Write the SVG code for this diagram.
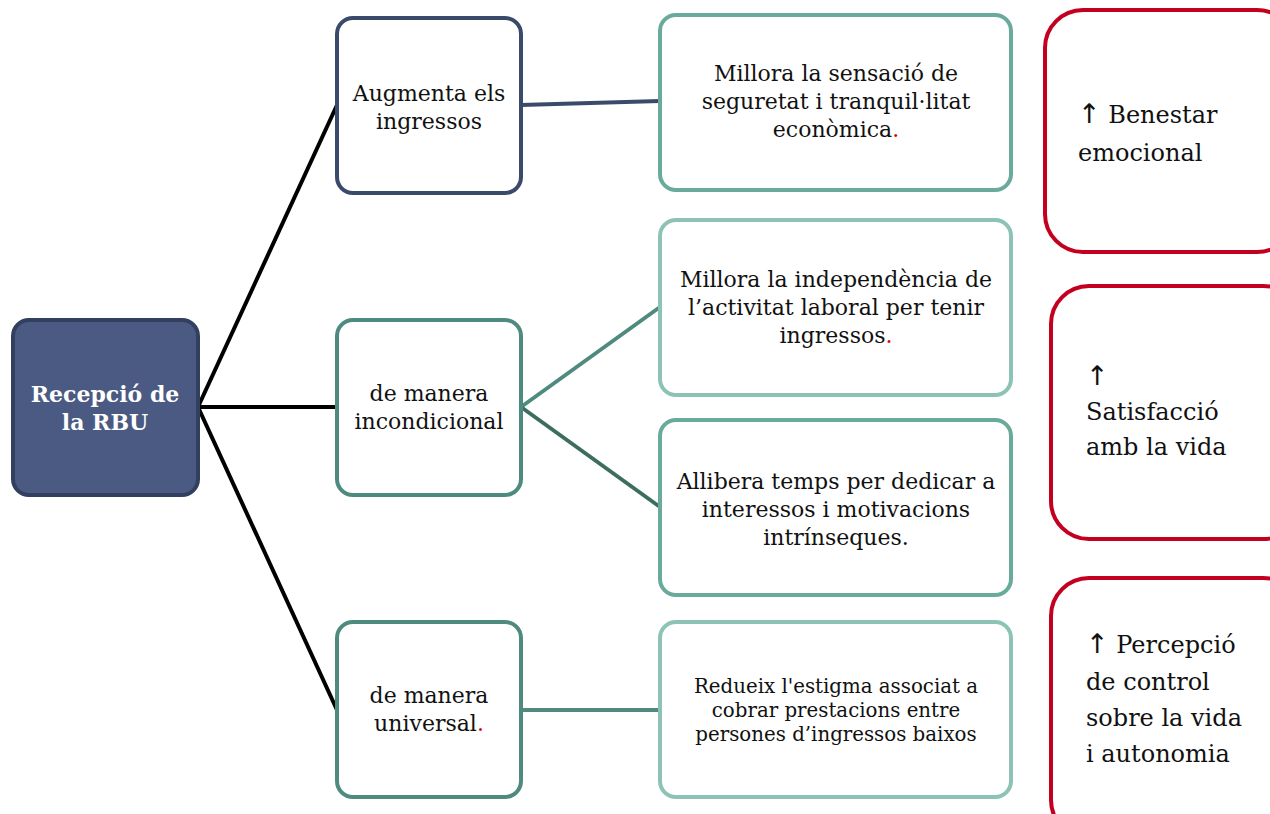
<svg xmlns="http://www.w3.org/2000/svg" width="1270" height="814" viewBox="0 0 1270 814">
<style>
.t{font-family:"DejaVu Serif","Liberation Serif",serif;font-size:22px;fill:#111;text-anchor:middle}
.s{font-size:19.8px}
.r{font-family:"DejaVu Serif","Liberation Serif",serif;font-size:24px;fill:#111}
.ar{font-family:"DejaVu Sans",sans-serif;font-size:27px}
.root{font-family:"DejaVu Serif","Liberation Serif",serif;font-size:22px;font-weight:bold;fill:#fff;text-anchor:middle}
.red{fill:#e00000}
.box{fill:#fff;stroke-width:4}
.redbox{fill:#fff;stroke:#c3001f;stroke-width:4}
</style>
<rect width="1270" height="814" fill="#fff"/>
<g id="connectors" fill="none" stroke-width="4">
<line x1="198" y1="407" x2="337" y2="105" stroke="#000"/>
<line x1="198" y1="407" x2="337" y2="407" stroke="#000"/>
<line x1="198" y1="407" x2="337" y2="710" stroke="#000"/>
<line x1="521" y1="105" x2="660" y2="101" stroke="#3b4a6b"/>
<line x1="521" y1="407" x2="660" y2="307" stroke="#4f8a7f"/>
<line x1="521" y1="407" x2="660" y2="507" stroke="#3c6e5e"/>
<line x1="521" y1="710" x2="660" y2="710" stroke="#4f8a7f"/>
</g>
<g id="root">
<rect x="13" y="320" width="185" height="175" rx="16" fill="#4a5a82" stroke="#323f5e" stroke-width="4"/>
<text class="root" x="105" y="402">Recepció de</text>
<text class="root" x="105" y="430">la RBU</text>
</g>
<g id="augmenta">
<rect class="box" x="337" y="18" width="184" height="175" rx="16" stroke="#3b4a6b"/>
<text class="t" x="429" y="101">Augmenta els</text>
<text class="t" x="429" y="129">ingressos</text>
</g>
<g id="incondicional">
<rect class="box" x="337" y="320" width="184" height="175" rx="16" stroke="#4f8a7f"/>
<text class="t" x="429" y="401">de manera</text>
<text class="t" x="429" y="429">incondicional</text>
</g>
<g id="universal">
<rect class="box" x="337" y="622" width="184" height="175" rx="16" stroke="#4f8a7f"/>
<text class="t" x="429" y="703">de manera</text>
<text class="t" x="429" y="731">universal<tspan class="red">.</tspan></text>
</g>
<g id="seguretat">
<rect class="box" x="660" y="15" width="351" height="175" rx="16" stroke="#6aaa9c"/>
<text class="t" x="836" y="81">Millora la sensació de</text>
<text class="t" x="836" y="109">seguretat i tranquil·litat</text>
<text class="t" x="836" y="137">econòmica<tspan class="red">.</tspan></text>
</g>
<g id="independencia">
<rect class="box" x="660" y="220" width="351" height="175" rx="16" stroke="#8cc3b5"/>
<text class="t" x="836" y="287">Millora la independència de</text>
<text class="t" x="836" y="315">l’activitat laboral per tenir</text>
<text class="t" x="836" y="343">ingressos<tspan class="red">.</tspan></text>
</g>
<g id="allibera">
<rect class="box" x="660" y="420" width="351" height="175" rx="16" stroke="#6aaa9c"/>
<text class="t" x="836" y="489">Allibera temps per dedicar a</text>
<text class="t" x="836" y="517">interessos i motivacions</text>
<text class="t" x="836" y="545">intrínseques.</text>
</g>
<g id="estigma">
<rect class="box" x="660" y="622" width="351" height="175" rx="16" stroke="#8cc3b5"/>
<text class="t s" x="836" y="693">Redueix l'estigma associat a</text>
<text class="t s" x="836" y="717">cobrar prestacions entre</text>
<text class="t s" x="836" y="741">persones d’ingressos baixos</text>
</g>
<g id="benestar">
<rect class="redbox" x="1045" y="10" width="250" height="242" rx="38"/>
<text class="r" x="1078" y="123"><tspan class="ar">↑</tspan> Benestar</text>
<text class="r" x="1078" y="161">emocional</text>
</g>
<g id="satisfaccio">
<rect class="redbox" x="1051" y="286" width="250" height="253" rx="38"/>
<text class="r" x="1086" y="385"><tspan class="ar">↑</tspan></text>
<text class="r" x="1086" y="420">Satisfacció</text>
<text class="r" x="1086" y="455">amb la vida</text>
</g>
<g id="percepcio">
<rect class="redbox" x="1051" y="578" width="250" height="260" rx="38"/>
<text class="r" x="1086" y="653"><tspan class="ar">↑</tspan> Percepció</text>
<text class="r" x="1086" y="690">de control</text>
<text class="r" x="1086" y="726">sobre la vida</text>
<text class="r" x="1086" y="762">i autonomia</text>
</g>
</svg>
